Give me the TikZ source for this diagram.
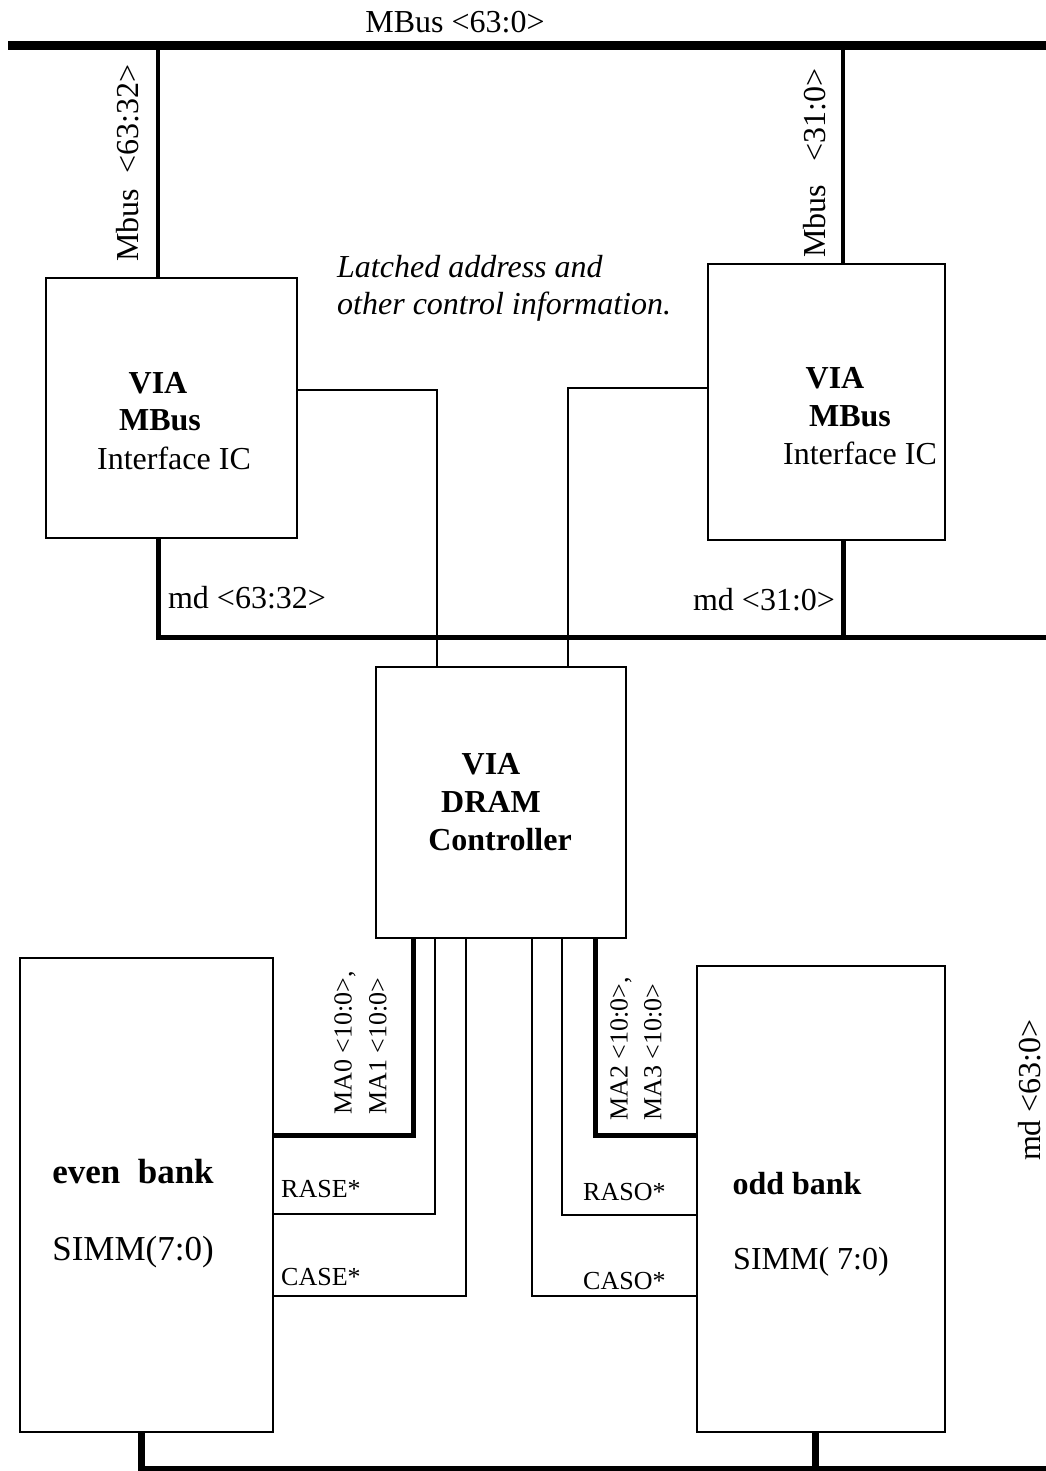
\documentclass[tikz,border=0pt]{standalone}
\usepackage{fontspec}
\setmainfont{Liberation Serif}
\begin{document}
\begin{tikzpicture}[x=1pt,y=-1pt,
  blk/.style={draw, line width=2.4pt, inner sep=0pt, outer sep=0pt},
  thinw/.style={line width=2.2pt},
  midw/.style={line width=5pt, line join=miter},
  busw/.style={line width=9pt},
  vbus/.style={line width=3.5pt},
  bottomw/.style={line width=7pt, line join=miter},
  txt/.style={inner sep=0pt, font=\fontsize{32}{38}\selectfont},
  btxt/.style={inner sep=0pt, font=\fontsize{32}{38}\selectfont\bfseries},
  itxt/.style={inner sep=0pt, font=\fontsize{32}{38}\selectfont\itshape},
  stxt/.style={inner sep=0pt, font=\fontsize{26}{30}\selectfont},
  rtxt/.style={inner sep=0pt, font=\fontsize{26}{30}\selectfont, rotate=90, anchor=west}
]
\useasboundingbox (0,0) rectangle (1045,1471);

% boxes
\node[blk, minimum width=251pt, minimum height=260pt] (lvia) at (171.5,408) {};
\node[blk, minimum width=237pt, minimum height=276pt] (rvia) at (826.5,402) {};
\node[blk, minimum width=250pt, minimum height=271pt] (dram) at (501,802.5) {};
\node[blk, minimum width=253pt, minimum height=474pt] (even) at (146.5,1195) {};
\node[blk, minimum width=248pt, minimum height=466pt] (odd) at (821,1199) {};

% box texts
\node[btxt] (lv1) at (158,383) {VIA};
\node[btxt] (lv2) at (160,420) {MBus};
\node[txt]  (lv3) at (174,458) {Interface IC};
\node[btxt] (rv1) at (835,378) {VIA};
\node[btxt] (rv2) at (850,416) {MBus};
\node[txt]  (rv3) at (860,453) {Interface IC};
\node[btxt] (dv1) at (491,764) {VIA};
\node[btxt] (dv2) at (491,802) {DRAM};
\node[btxt] (dv3) at (500,840) {Controller};
\node[btxt, font=\fontsize{35}{40}\selectfont\bfseries] (eb1) at (133,1172) {even\ \ bank};
\node[txt, font=\fontsize{35}{40}\selectfont]  (eb2) at (133,1252) {SIMM(7:0)};
\node[btxt] (ob1) at (797,1184) {odd bank};
\node[txt]  (ob2) at (811,1262) {SIMM( 7:0)};

% top bus
\coordinate (busL) at (8,46);
\coordinate (busR) at (1052,46);
\draw[busw] (busL) -- (busR);
\node[txt] (mbuslbl) at (455,22) {MBus <63:0>};

% Mbus drops
\draw[vbus] (158,46) -- (158,0 |- lvia.north);
\draw[vbus] (843,46) -- (843,0 |- rvia.north);
\node[txt, rotate=90] (lmb) at (128,163) {Mbus\ \ <63:32>};
\node[txt, rotate=90] (rmb) at (815,163) {Mbus\ \ \ <31:0>};

% italic note
\node[itxt, anchor=base west] (n1) at (337,277) {Latched address and};
\node[itxt, anchor=base west] (n2) at (337,314) {other control information.};

% control wires to DRAM
\draw[thinw] (lvia.east |- 0,390) -- (437,390) -- (437,0 |- dram.north);
\draw[thinw] (rvia.west |- 0,388) -- (568,388) -- (568,0 |- dram.north);

% md bus
\draw[midw] (158,0 |- lvia.south) -- (158,637) -- (1052,637);
\draw[midw] (843,0 |- rvia.south) -- (843,637);
\node[txt] (mdl) at (247,598) {md <63:32>};
\node[txt] (mdr) at (764,600) {md <31:0>};

% DRAM to banks
\draw[midw] (413,0 |- dram.south) -- (413,1135) -- (even.east |- 0,1135);
\draw[thinw] (435,0 |- dram.south) -- (435,1214) -- (even.east |- 0,1214);
\draw[thinw] (466,0 |- dram.south) -- (466,1296) -- (even.east |- 0,1296);
\draw[thinw] (532,0 |- dram.south) -- (532,1296) -- (odd.west |- 0,1296);
\draw[thinw] (562,0 |- dram.south) -- (562,1215) -- (odd.west |- 0,1215);
\draw[midw] (595,0 |- dram.south) -- (595,1135) -- (odd.west |- 0,1135);

\node[rtxt] (ma0) at (345,1115) {MA0 <10:0>,};
\node[rtxt] (ma1) at (378,1115) {MA1 <10:0>};
\node[rtxt] (ma2) at (621,1121) {MA2 <10:0>,};
\node[rtxt] (ma3) at (653,1121) {MA3 <10:0>};

\node[stxt, anchor=west] (rase) at (281,1189) {RASE*};
\node[stxt, anchor=west] (case) at (281,1277) {CASE*};
\node[stxt, anchor=west] (raso) at (583,1192) {RASO*};
\node[stxt, anchor=west] (caso) at (583,1281) {CASO*};

% bottom md bus
\draw[bottomw] (141,0 |- even.south) -- (141,1469) -- (1052,1469);
\draw[bottomw] (815,0 |- odd.south) -- (815,1469);
\node[txt, rotate=90] (md63) at (1030,1090) {md <63:0>};
\end{tikzpicture}
\end{document}
